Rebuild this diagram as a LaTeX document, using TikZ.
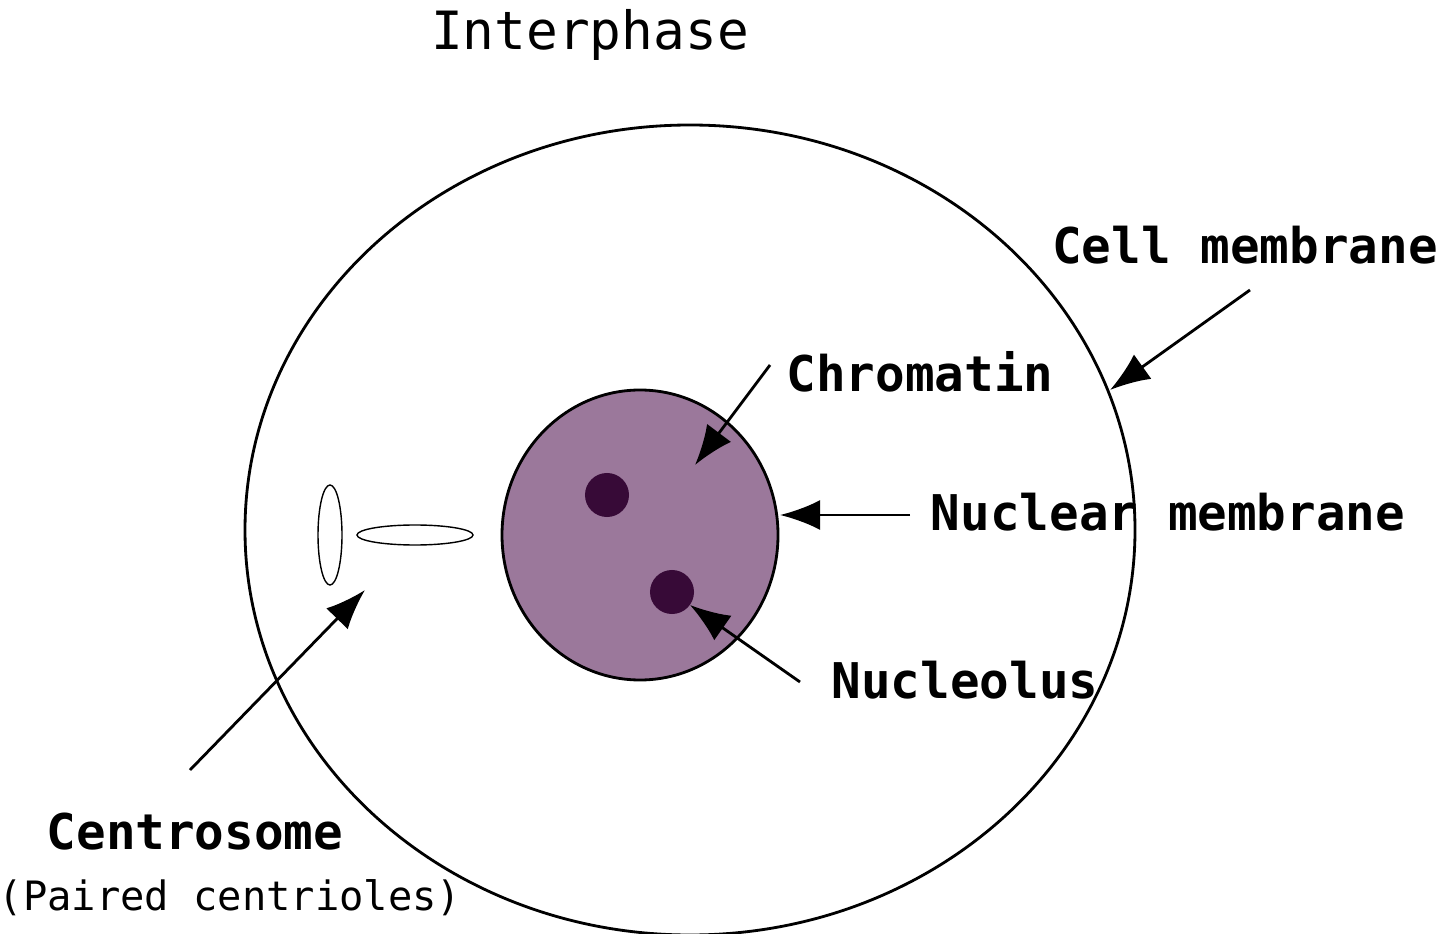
\documentclass[tikz,border=0pt]{standalone}
\usepackage{fontspec}
\setmonofont{DejaVu Sans Mono}
\usetikzlibrary{arrows.meta, positioning, shapes.geometric}
\definecolor{nucfill}{RGB}{155,120,155}
\definecolor{nucdark}{RGB}{55,10,55}
\tikzset{
  tag/.style={font=\ttfamily\bfseries\fontsize{14}{16}\selectfont, inner sep=1pt},
  pointer/.style={-{Latex[length=4mm,width=3mm]}, thick}
}
\begin{document}
\begin{tikzpicture}[x=0.01cm,y=-0.01cm]
  \useasboundingbox (0,0) rectangle (1440,934);

  % cell and nucleus
  \draw[thick] (690,530) ellipse [x radius=445, y radius=405];
  \draw[thick, fill=nucfill] (640,535) ellipse [x radius=138, y radius=145];
  \node[circle, fill=nucdark, minimum size=0.44cm, inner sep=0] (nuc1) at (607,495) {};
  \node[circle, fill=nucdark, minimum size=0.44cm, inner sep=0] (nuc2) at (672,592) {};
  \coordinate (nucedge) at (780,515);

  % centrioles
  \draw (330,535) ellipse [x radius=12, y radius=50];
  \draw (415,535) ellipse [x radius=58, y radius=10];

  % labels
  \node[font=\ttfamily\fontsize{15}{17}\selectfont] (title) at (590,35) {Interphase};
  \node[tag] (cellm) at (1245,245) {Cell membrane};
  \node[tag] (chrom) at (920,372) {Chromatin};
  \node[tag] (nucm) at (1168,512) {Nuclear membrane};
  \node[tag] (nucl) at (965,680) {Nucleolus};
  \node[tag] (centro) at (195,832) {Centrosome};
  \node[font=\ttfamily\fontsize{11.5}{14}\selectfont] (paired) at (230,898) {(Paired centrioles)};

  % pointers
  \coordinate (cellp) at (1110,390);
  \coordinate (chromp) at (695,465);
  \coordinate (nuclp) at (690,605);
  \coordinate (centp) at (365,590);
  \draw[pointer] (1250,290) -- (cellp);
  \draw[pointer] (770,365) -- (chromp);
  \draw[pointer] (910,515) -- (nucedge);
  \draw[pointer] (800,682) -- (nuclp);
  \draw[pointer] (190,770) -- (centp);
\end{tikzpicture}
\end{document}
